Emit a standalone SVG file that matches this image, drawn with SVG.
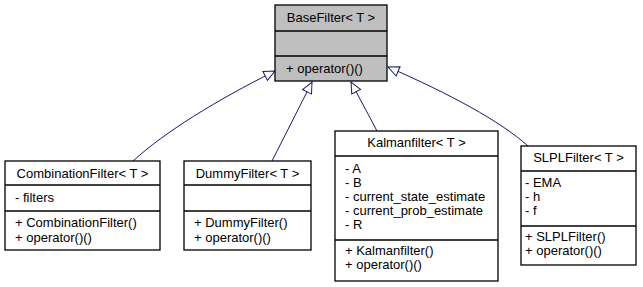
<svg xmlns="http://www.w3.org/2000/svg" width="643" height="287" viewBox="0 0 643 287">
  <style>
    .box { fill: #ffffff; stroke: #000000; stroke-width: 1.3; }
    .base { fill: #bfbfbf; }
    .sep { stroke: #000000; stroke-width: 1.3; fill: none; }
    text { font-family: "Liberation Sans", Arial, sans-serif; font-size: 13px; fill: #000000; }
    .title { text-anchor: middle; }
    .edge { fill: none; stroke: #191970; stroke-width: 1; }
  </style>
  <defs>
    <marker id="inherit" markerWidth="14" markerHeight="12" refX="12" refY="6" orient="auto" markerUnits="userSpaceOnUse">
      <polygon points="1,1 12,6 1,11" fill="#ffffff" stroke="#191970" stroke-width="1"/>
    </marker>
  </defs>

  <rect width="643" height="287" fill="#ffffff"/>

  <!-- inheritance connectors -->
  <g id="connectors">
    <path class="edge" d="M133,161 C165,132 215,101 275,71" marker-end="url(#inherit)"/>
    <path class="edge" d="M272,161 L312,82" marker-end="url(#inherit)"/>
    <path class="edge" d="M377,131 L351,82" marker-end="url(#inherit)"/>
    <path class="edge" d="M528,146 C500,121 450,94 388,67" marker-end="url(#inherit)"/>
  </g>

  <!-- base class -->
  <g id="BaseFilter">
    <rect class="box base" x="275" y="5" width="112" height="76"/>
    <line class="sep" x1="275" y1="31" x2="387" y2="31"/>
    <line class="sep" x1="275" y1="56" x2="387" y2="56"/>
    <text class="title" x="331" y="22">BaseFilter&lt; T &gt;</text>
    <text x="286" y="73">+ operator()()</text>
  </g>

  <g id="CombinationFilter">
    <rect class="box" x="5" y="161" width="155" height="89"/>
    <line class="sep" x1="5" y1="185" x2="160" y2="185"/>
    <line class="sep" x1="5" y1="211" x2="160" y2="211"/>
    <text class="title" x="82.5" y="178">CombinationFilter&lt; T &gt;</text>
    <text x="15" y="202">- filters</text>
    <text x="15" y="227">+ CombinationFilter()</text>
    <text x="15" y="242">+ operator()()</text>
  </g>

  <g id="DummyFilter">
    <rect class="box" x="184" y="161" width="127" height="89"/>
    <line class="sep" x1="184" y1="185" x2="311" y2="185"/>
    <line class="sep" x1="184" y1="211" x2="311" y2="211"/>
    <text class="title" x="247.5" y="178">DummyFilter&lt; T &gt;</text>
    <text x="194" y="227">+ DummyFilter()</text>
    <text x="194" y="242">+ operator()()</text>
  </g>

  <g id="Kalmanfilter">
    <rect class="box" x="335" y="131" width="163" height="150"/>
    <line class="sep" x1="335" y1="156" x2="498" y2="156"/>
    <line class="sep" x1="335" y1="240" x2="498" y2="240"/>
    <text class="title" x="416.5" y="147">Kalmanfilter&lt; T &gt;</text>
    <text x="345" y="173">- A</text>
    <text x="345" y="187">- B</text>
    <text x="345" y="201">- current_state_estimate</text>
    <text x="345" y="215">- current_prob_estimate</text>
    <text x="345" y="229">- R</text>
    <text x="345" y="255">+ Kalmanfilter()</text>
    <text x="345" y="269">+ operator()()</text>
  </g>

  <g id="SLPLFilter">
    <rect class="box" x="521" y="146" width="115" height="119"/>
    <line class="sep" x1="521" y1="171" x2="636" y2="171"/>
    <line class="sep" x1="521" y1="226" x2="636" y2="226"/>
    <text class="title" x="578.5" y="162">SLPLFilter&lt; T &gt;</text>
    <text x="525" y="187">- EMA</text>
    <text x="525" y="201">- h</text>
    <text x="525" y="215">- f</text>
    <text x="525" y="241">+ SLPLFilter()</text>
    <text x="525" y="255">+ operator()()</text>
  </g>
</svg>
